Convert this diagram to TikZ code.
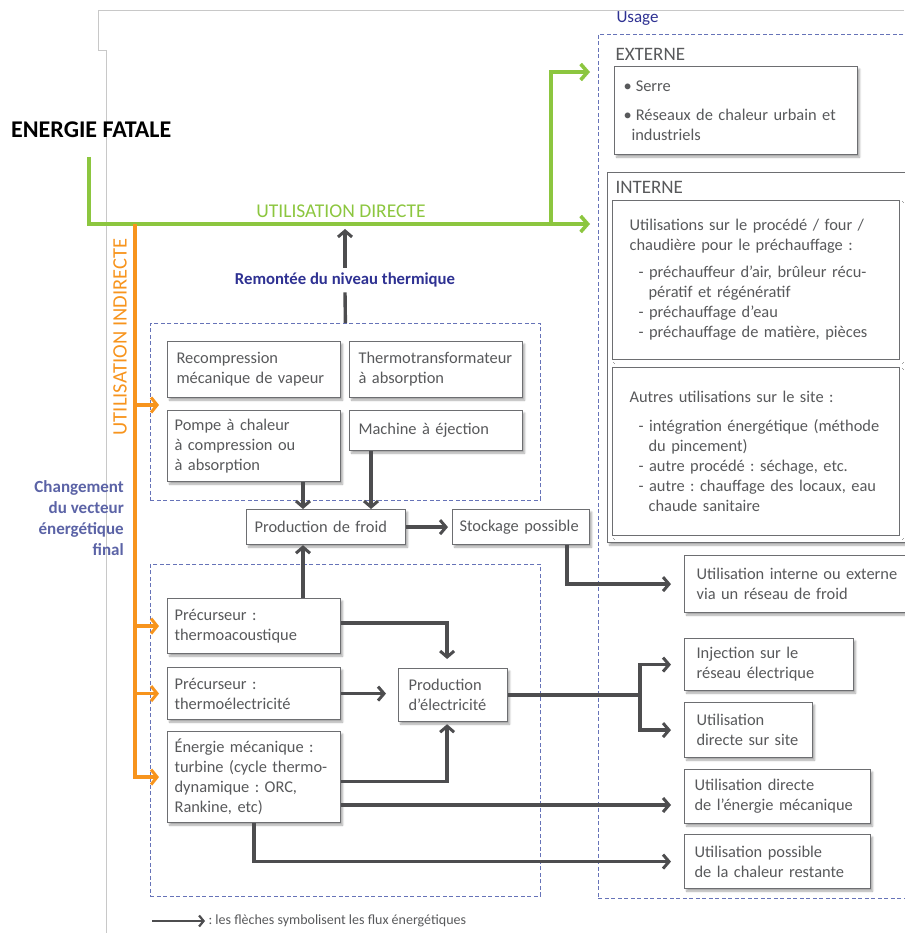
\documentclass[tikz,border=0pt]{standalone}
\usepackage{fontspec}
\setmainfont{Carlito}
\usetikzlibrary{arrows.meta,shadows.blur}
\frenchspacing

\definecolor{vert}{HTML}{8CC63F}
\definecolor{orange}{HTML}{F7941D}
\definecolor{fleche}{HTML}{4D4D4F}
\definecolor{cadre}{HTML}{6D6E71}
\definecolor{texte}{HTML}{58595B}
\definecolor{pointille}{HTML}{6673B8}
\definecolor{titre}{HTML}{2E3192}
\definecolor{vecteur}{HTML}{5B63A6}
\definecolor{fond}{HTML}{C8C8C8}

\newcommand\boxfont{\fontsize{16.4}{20}\selectfont}
\newcommand\lblfont{\fontsize{19}{22}\selectfont}

\tikzset{
  box/.style={draw=cadre,line width=1.2pt,fill=white,text=texte,anchor=north west,
    align=left,inner ysep=0pt,inner xsep=9pt,font=\boxfont,
    blur shadow={shadow xshift=2pt,shadow yshift=-2.5pt,shadow blur steps=6,shadow opacity=35}},
  groupe/.style={draw=pointille,dashed,dash pattern=on 4pt off 2.5pt,line width=0.8pt,
    anchor=north west,inner sep=0pt},
  darrow/.style={draw=fleche,line width=3.4pt,
    -{Straight Barb[length=6pt,width=14pt,line width=3pt]}},
  dline/.style={draw=fleche,line width=3.4pt},
  garrow/.style={draw=vert,line width=4pt,
    -{Straight Barb[length=7pt,width=16pt,line width=3.6pt]}},
  oarrow/.style={draw=orange,line width=3.4pt,
    -{Straight Barb[length=6pt,width=15pt,line width=3pt]}},
}

\begin{document}
\begin{tikzpicture}[x=1pt,y=-1pt]
\useasboundingbox (0,0) rectangle (904,933);
\draw[fond,line width=0.6pt] (904,10) -- (98,10) -- (98,50) -- (106,50) -- (106,933);

\node[groupe,minimum width=312pt,minimum height=864pt] (usage) at (598,34) {};
\node[groupe,minimum width=390pt,minimum height=177pt] (thermo) at (150,323) {};
\node[groupe,minimum width=390pt,minimum height=332pt] (bas) at (150,564) {};

\node[text=titre,font=\fontsize{17}{20}\selectfont,anchor=west] (usagelbl) at (613,19) {Usage};
\node[text=texte,font=\lblfont,anchor=west] (externelbl) at (612,54) {EXTERNE};
\node[box,text width=225pt,minimum height=88pt] (externe) at (614,66)
  {•\hspace{4pt}Serre\\[9pt]•\hspace{4pt}Réseaux de chaleur urbain et\\\hspace*{8pt}industriels};

\node[box,minimum width=303pt,minimum height=370pt] (interne) at (607,172) {};
\node[text=texte,font=\lblfont,anchor=west] (internelbl) at (612,187) {INTERNE};
\node[box,blur shadow={shadow opacity=0},inner xsep=17pt,text width=253pt,minimum height=159pt] (interne1) at (612,200)
  {Utilisations sur le procédé / four /\\chaudière pour le préchauffage :\\[7pt]
   \hspace*{9pt}- préchauffeur d’air, brûleur récu-\\\hspace*{19pt}pératif et régénératif\\
   \hspace*{9pt}- préchauffage d’eau\\\hspace*{9pt}- préchauffage de matière, pièces};
\node[box,blur shadow={shadow opacity=0},inner xsep=17pt,text width=253pt,minimum height=168pt] (interne2) at (612,367)
  {Autres utilisations sur le site :\\[9pt]
   \hspace*{9pt}- intégration énergétique (méthode\\\hspace*{19pt}du pincement)\\
   \hspace*{9pt}- autre procédé : séchage, etc.\\
   \hspace*{9pt}- autre : chauffage des locaux, eau\\\hspace*{19pt}chaude sanitaire};

\node[box,inner xsep=12pt,text width=202pt,minimum height=57pt] (froidnet) at (684,555) {Utilisation interne ou externe\\via un réseau de froid};
\node[box,inner xsep=12pt,text width=145pt,minimum height=52pt] (inject) at (684,638) {Injection sur le\\réseau électrique};
\node[box,inner xsep=12pt,text width=104pt,minimum height=55pt] (site) at (684,702) {Utilisation\\directe sur site};
\node[box,inner xsep=10pt,text width=166pt,minimum height=54pt] (mecad) at (684,769) {Utilisation directe\\de l’énergie mécanique};
\node[box,inner xsep=10pt,text width=166pt,minimum height=54pt] (reste) at (684,834) {Utilisation possible\\de la chaleur restante};

\node[box,text width=155pt,minimum height=56pt] (recomp) at (167,341) {Recompression\\mécanique de vapeur};
\node[box,text width=155pt,minimum height=56pt] (thermot) at (349,341) {Thermotransformateur\\à absorption};
\node[box,inner xsep=7pt,text width=159pt,minimum height=71pt] (pompe) at (167,410) {Pompe à chaleur\\à compression ou\\à absorption};
\node[box,text width=155pt,minimum height=40pt] (ejection) at (349,410) {Machine à éjection};
\node[box,inner xsep=8pt,text width=143pt,minimum height=35pt] (froid) at (246,509) {Production de froid};
\node[box,inner xsep=7pt,text width=123pt,minimum height=35pt] (stock) at (452,509) {Stockage possible};

\node[box,inner xsep=7pt,text width=159pt,minimum height=55pt] (acou) at (167,598) {Précurseur :\\thermoacoustique};
\node[box,inner xsep=7pt,text width=159pt,minimum height=52pt] (thel) at (167,667) {Précurseur :\\thermoélectricité};
\node[box,inner xsep=7pt,text width=159pt,minimum height=91pt] (meca) at (167,731) {Énergie mécanique :\\turbine (cycle thermo-\\dynamique : ORC,\\Rankine, etc)};
\node[box,inner xsep=10pt,text width=89pt,minimum height=53pt] (elec) at (398,668) {Production\\d’électricité};

\node[font=\bfseries\fontsize{24}{28}\selectfont,anchor=west,inner sep=0pt] (fatale) at (11,130) {ENERGIE FATALE};
\node[text=vert,font=\fontsize{19.5}{22}\selectfont] (directe) at (341,211) {UTILISATION DIRECTE};
\node[text=orange,font=\fontsize{20.5}{22}\selectfont,rotate=90] (indirecte) at (120,337) {UTILISATION INDIRECTE};
\node[text=vecteur,font=\bfseries\fontsize{17}{21}\selectfont,align=right,anchor=east,inner xsep=0pt] (vecteurlbl) at (124,518)
  {Changement\\du vecteur\\énergétique\\final};
\node[text=titre,font=\bfseries\fontsize{16.7}{18}\selectfont,inner ysep=5pt] (remontee) at (345,280) {Remontée du niveau thermique};

\coordinate (gin) at (590,224);
\coordinate (gext) at (590,72);
\coordinate (gsplit) at (551,224);
\coordinate (otop) at (135,224);
\coordinate (rtip) at (345,229);

\draw[garrow] (89,157) |- (gin);
\draw[garrow] (gsplit) |- (gext);

\draw[oarrow] (otop) |- ([xshift=-8pt]meca.west);
\draw[oarrow] (otop |- 0,405) -- (159,405);
\draw[oarrow] (otop |- acou.west) -- ([xshift=-8pt]acou.west);
\draw[oarrow] (otop |- thel.west) -- ([xshift=-8pt]thel.west);

\draw[dline] (thermo.north) -- (remontee.south);
\draw[darrow] (remontee.north) -- (rtip);

\draw[darrow] (pompe.south -| 303,0) -- (froid.north -| 303,0);
\draw[darrow] (ejection.south -| 371,0) -- (froid.north -| 371,0);
\draw[darrow,shorten >=4pt] (froid.east) -- (stock.west);
\draw[darrow,shorten >=13pt] (stock.south -| 567,0) |- (froidnet.west);

\draw[darrow] (acou.north -| 303,0) -- (froid.south -| 303,0);
\draw[darrow,shorten >=9pt] ([yshift=3pt]acou.east) -| ([xshift=-6pt]elec.north);
\draw[darrow,shorten >=12pt] (thel.east) -- (elec.west |- thel.east);
\draw[darrow,shorten >=2pt] ([yshift=-4.5pt]meca.east) -| ([xshift=-6pt]elec.south);
\draw[darrow,shorten >=13pt] (meca.east |- 0,805) -- (mecad.west |- 0,805);
\draw[darrow,shorten >=13pt] (meca.south) |- (reste.west);

\coordinate (esplit) at (elec.east -| 640,0);
\draw[dline] (elec.east) -- (esplit);
\draw[darrow,shorten >=13pt] (esplit) |- (inject.west);
\draw[darrow,shorten >=13pt] (esplit) |- (site.west);

\node[text=texte,font=\fontsize{14}{16}\selectfont,anchor=west] (legende) at (205,921) {: les flèches symbolisent les flux énergétiques};
\coordinate (legA) at (152,921);
\draw[fleche,line width=2.4pt,-{Straight Barb[length=4.5pt,width=11pt,line width=2.2pt]}] (legA) -- (legende.west);
\end{tikzpicture}
\end{document}
